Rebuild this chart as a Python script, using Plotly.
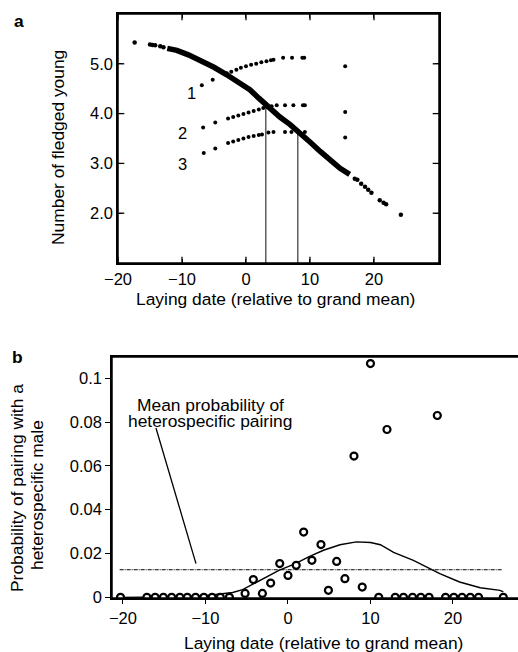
import plotly.graph_objects as go

FONT = "Liberation Sans, Arial, Helvetica, sans-serif"

# ---------------- Panel a data ----------------
# fitted relation (dense part, drawn as thick band)
a_main_x = [-12.3, -10.8, -9.0, -7.2, -5.0, -3.0, -1.0, 0.6, 2.0, 3.3, 5.3, 6.9, 8.4, 10.0, 11.6, 13.2, 14.7, 16.2]
a_main_y = [5.31, 5.27, 5.18, 5.08, 4.93, 4.78, 4.62, 4.48, 4.31, 4.15, 3.93, 3.78, 3.62, 3.43, 3.24, 3.07, 2.90, 2.78]
# sparse dots at the two ends of the fitted relation
a_tail_x = [-17.4, -15.0, -14.6, -14.2, -13.4, -12.9, 17.0, 17.4, 18.0, 18.6, 19.1, 19.6, 20.9, 21.5, 21.9, 24.2]
a_tail_y = [5.43, 5.39, 5.38, 5.37, 5.35, 5.33, 2.69, 2.67, 2.59, 2.53, 2.47, 2.41, 2.26, 2.21, 2.18, 1.97]

# clutch-size curves 1, 2, 3
c1_x = [-6.9, -5.2, -3.0, -2.3, -1.5, -0.8, 0.0, 0.8, 1.6, 2.4, 3.2, 3.9, 4.3, 5.8, 7.2, 8.8, 9.1]
c1_y = [4.57, 4.68, 4.81, 4.84, 4.88, 4.92, 4.95, 4.98, 5.00, 5.03, 5.05, 5.07, 5.08, 5.12, 5.12, 5.12, 5.12]
c2_x = [-6.7, -4.8, -2.8, -2.0, -1.2, -0.4, 0.4, 1.2, 2.0, 2.7, 3.4, 4.0, 4.8, 6.1, 7.4, 8.9, 9.2]
c2_y = [3.72, 3.82, 3.90, 3.93, 3.96, 3.99, 4.02, 4.05, 4.08, 4.11, 4.13, 4.15, 4.17, 4.17, 4.17, 4.17, 4.17]
c3_x = [-6.6, -4.8, -2.8, -2.0, -1.2, -0.4, 0.4, 1.2, 2.0, 2.5, 3.5, 4.3, 6.1, 7.1, 8.1, 9.2]
c3_y = [3.21, 3.30, 3.41, 3.44, 3.47, 3.50, 3.53, 3.55, 3.57, 3.58, 3.62, 3.63, 3.63, 3.63, 3.64, 3.63]
# isolated late points
late_x = [15.5, 15.5, 15.5]
late_y = [4.95, 4.03, 3.52]
# optimum laying dates (vertical drop lines)
drop_x = [3.1, 8.1]
drop_y = [4.13, 3.63]
curve_labels = ["1", "2", "3"]
curve_label_x = [-8.5, -9.9, -9.9]
curve_label_y = [4.41, 3.61, 2.98]

a_xticks = [-20, -10, 0, 10, 20]
a_yticks = [2, 3, 4, 5]
a_yticktext = ["2.0", "3.0", "4.0", "5.0"]

# ---------------- Panel b data ----------------
b_x = [-20.3, -17.1, -16.1, -15.1, -14.1, -13.1, -12.2, -11.2, -10.2, -9.2, -8.2, -7.1,
       -5.2, -4.2, -3.1, -2.1, -1.0, 0.0, 1.0, 1.9, 2.9, 4.0, 4.9, 5.9, 6.9, 8.0, 9.0, 10.0,
       11.0, 12.0, 13.0, 14.0, 15.1, 16.1, 17.1, 18.1, 19.1, 20.1, 21.1, 22.1, 23.1, 26.1]
b_y = [0, 0, 0, 0, 0, 0, 0, 0, 0, 0, 0, 0,
       0.0018, 0.0081, 0.0018, 0.0065, 0.0154, 0.0100, 0.0146, 0.0298, 0.0169, 0.0241, 0.0032,
       0.0164, 0.0085, 0.0645, 0.0047, 0.1067,
       0, 0.0766, 0, 0, 0, 0, 0, 0.0830, 0, 0, 0, 0, 0, 0]
# fitted probability curve
fit_x = [-20.3, -15.0, -12.0, -10.0, -8.0, -6.7, -5.5, -4.2, -2.5, -1.1, 0.9, 2.5, 4.3, 6.3,
         8.3, 10.0, 11.2, 12.8, 15.2, 17.4, 18.4, 20.8, 23.3, 25.7, 26.1]
fit_y = [0.0, 0.0, 0.0003, 0.0007, 0.0015, 0.0022, 0.0035, 0.0060, 0.0093, 0.0123, 0.0154,
         0.0185, 0.0215, 0.0240, 0.0253, 0.0250, 0.0240, 0.0205, 0.0169, 0.0126, 0.0108,
         0.0070, 0.0044, 0.0032, 0.0025]
mean_x = [-20.4, 26.0]
mean_prob = 0.0126
pointer_x = [-16.0, -11.15]
pointer_y = [0.0773, 0.0154]
mean_label_lines = ["Mean probability of", "heterospecific pairing"]
mean_label_x = -9.45
mean_label_y = [0.0876, 0.0806]

b_xticks = [-20, -10, 0, 10, 20]
b_yticks = [0, 0.02, 0.04, 0.06, 0.08, 0.1]
b_yticktext = ["0", "0.02", "0.04", "0.06", "0.08", "0.1"]

W, H = 518, 652

# axis geometry
xa_dom, xa_rng = [118 / W, 439 / W], [-20, 30.16]
ya_dom, ya_rng = [1 - 263 / H, 1 - 14 / H], [1.0, 6.0]
xb_dom, xb_rng = [112 / W, 1.0], [-21.33, 27.88]
yb_dom, yb_rng = [1 - 598 / H, 1 - 357 / H], [-0.0003, 0.1097]

fig = go.Figure()

# ---- panel a traces
for dx, dy in zip(drop_x, drop_y):
    fig.add_trace(go.Scatter(x=[dx, dx], y=[1.0, dy], mode="lines",
                             line=dict(color="#222222", width=1.1),
                             xaxis="x", yaxis="y", hoverinfo="skip"))
fig.add_trace(go.Scatter(x=a_main_x, y=a_main_y, mode="lines",
                         line=dict(color="black", width=5.5),
                         xaxis="x", yaxis="y"))
fig.add_trace(go.Scatter(x=a_tail_x, y=a_tail_y, mode="markers",
                         marker=dict(color="black", size=4.5),
                         xaxis="x", yaxis="y"))
for cx, cy in [(c1_x, c1_y), (c2_x, c2_y), (c3_x, c3_y), (late_x, late_y)]:
    fig.add_trace(go.Scatter(x=cx, y=cy, mode="markers",
                             marker=dict(color="black", size=4),
                             xaxis="x", yaxis="y"))

# ---- panel b traces
fig.add_trace(go.Scatter(x=mean_x, y=[mean_prob, mean_prob], mode="lines",
                         line=dict(color="black", width=1, dash="4px,1px,1px,1px"),
                         xaxis="x2", yaxis="y2"))
fig.add_trace(go.Scatter(x=pointer_x, y=pointer_y, mode="lines",
                         line=dict(color="black", width=1.3),
                         xaxis="x2", yaxis="y2"))
fig.add_trace(go.Scatter(x=fit_x, y=fit_y, mode="lines",
                         line=dict(color="black", width=1.4),
                         xaxis="x2", yaxis="y2"))
fig.add_trace(go.Scatter(x=b_x, y=b_y, mode="markers",
                         marker=dict(color="white", size=7, symbol="circle",
                                     line=dict(color="black", width=2.2)),
                         xaxis="x2", yaxis="y2"))

# ---- tick marks drawn as line markers on the axes' own scales
def tick_trace(xs, ys, symbol, size, xa, ya, clip):
    return go.Scatter(x=xs, y=ys, mode="markers", xaxis=xa, yaxis=ya, cliponaxis=clip,
                      hoverinfo="skip",
                      marker=dict(symbol=symbol, size=size, color="black",
                                  line=dict(color="black", width=1.3)))

# panel a: inside ticks on all four sides (outer half clipped away)
fig.add_trace(tick_trace(a_xticks, [ya_rng[0]] * len(a_xticks), "line-ns", 9, "x", "y", True))
fig.add_trace(tick_trace(a_xticks, [ya_rng[1]] * len(a_xticks), "line-ns", 9, "x", "y", True))
fig.add_trace(tick_trace([xa_rng[0]] * len(a_yticks), a_yticks, "line-ew", 9, "x", "y", True))
fig.add_trace(tick_trace([xa_rng[1]] * len(a_yticks), a_yticks, "line-ew", 9, "x", "y", True))
# panel b: outside ticks, centred half a tick-length outside the axis line
yb_per_px = (yb_rng[1] - yb_rng[0]) / ((yb_dom[1] - yb_dom[0]) * H)
xb_per_px = (xb_rng[1] - xb_rng[0]) / ((xb_dom[1] - xb_dom[0]) * W)
fig.add_trace(tick_trace(b_xticks, [yb_rng[0] - 2.5 * yb_per_px] * len(b_xticks),
                         "line-ns", 5, "x2", "y2", False))
fig.add_trace(tick_trace([xb_rng[0] - 3 * xb_per_px] * len(b_yticks), b_yticks,
                         "line-ew", 6, "x2", "y2", False))

tickfont = dict(family=FONT, size=16.5, color="black")
titlefont = dict(family=FONT, size=17.4, color="black")

annotations = []
for t, lx, ly in zip(curve_labels, curve_label_x, curve_label_y):
    annotations.append(dict(text=t, x=lx, y=ly, xref="x", yref="y", showarrow=False,
                            font=tickfont, xanchor="center", yanchor="middle"))
for line, ly in zip(mean_label_lines, mean_label_y):
    annotations.append(dict(text=line, x=mean_label_x, y=ly, xref="x2", yref="y2",
                            showarrow=False, font=titlefont, xanchor="center", yanchor="middle"))

def px2paper(px, py):
    return px / W, 1 - py / H

for text, (px, py), ang in [
    ("<b>a</b>", (19, 21), 0),
    ("<b>b</b>", (17, 357), 0),
    ("Laying date (relative to grand mean)", (275, 299), 0),
    ("Laying date (relative to grand mean)", (323, 643), 0),
    ("Number of fledged young", (58, 148), -90),
    ("Probability of pairing with a", (17, 488), -90),
    ("heterospecific male", (37, 495), -90),
]:
    xp, yp = px2paper(px, py)
    annotations.append(dict(text=text, x=xp, y=yp, xref="paper", yref="paper",
                            showarrow=False, textangle=ang, font=titlefont,
                            xanchor="center", yanchor="middle"))

# ---- frame lines bound to the axes' domains
LW = 1.5
frame = dict(type="line", xref="paper", yref="paper", line=dict(color="black", width=LW), layer="above")
shapes = [
    dict(type="rect", xref="x domain", yref="y domain", x0=0, x1=1, y0=0, y1=1,
         line=dict(color="black", width=LW), layer="above"),
    dict(frame, x0=xb_dom[0], x1=xb_dom[1], y0=yb_dom[0], y1=yb_dom[0]),
    dict(frame, x0=xb_dom[0], x1=xb_dom[1], y0=yb_dom[1], y1=yb_dom[1]),
    dict(frame, x0=xb_dom[0], x1=xb_dom[0], y0=yb_dom[0], y1=yb_dom[1]),
]

axis_common = dict(showgrid=False, zeroline=False, showline=True, linecolor="black",
                   linewidth=LW, tickcolor="black", tickwidth=1.2, tickfont=tickfont,
                   automargin=False)

fig.update_layout(
    template="none",
    width=W, height=H,
    margin=dict(l=0, r=0, t=0, b=0, pad=0),
    paper_bgcolor="white", plot_bgcolor="white",
    showlegend=False,
    font=dict(family=FONT, color="black"),
    xaxis=dict(domain=xa_dom, range=xa_rng, tickvals=a_xticks,
               ticks="inside", ticklen=4, mirror="ticks", anchor="y", **axis_common),
    yaxis=dict(domain=ya_dom, range=ya_rng, tickvals=a_yticks,
               ticktext=a_yticktext, ticks="inside", ticklen=4, mirror="ticks",
               anchor="x", **axis_common),
    xaxis2=dict(domain=xb_dom, range=xb_rng, tickvals=b_xticks,
                ticks="outside", ticklen=4, mirror=True, anchor="y2", **axis_common),
    yaxis2=dict(domain=yb_dom, range=yb_rng, tickvals=b_yticks,
                ticktext=b_yticktext, ticks="outside", ticklen=5, mirror=False,
                anchor="x2", **axis_common),
    annotations=annotations,
    shapes=shapes,
)

fig.write_html("out.html", config={"displayModeBar": False},
               post_script="document.body.style.margin='0';document.body.style.overflow='hidden';")
